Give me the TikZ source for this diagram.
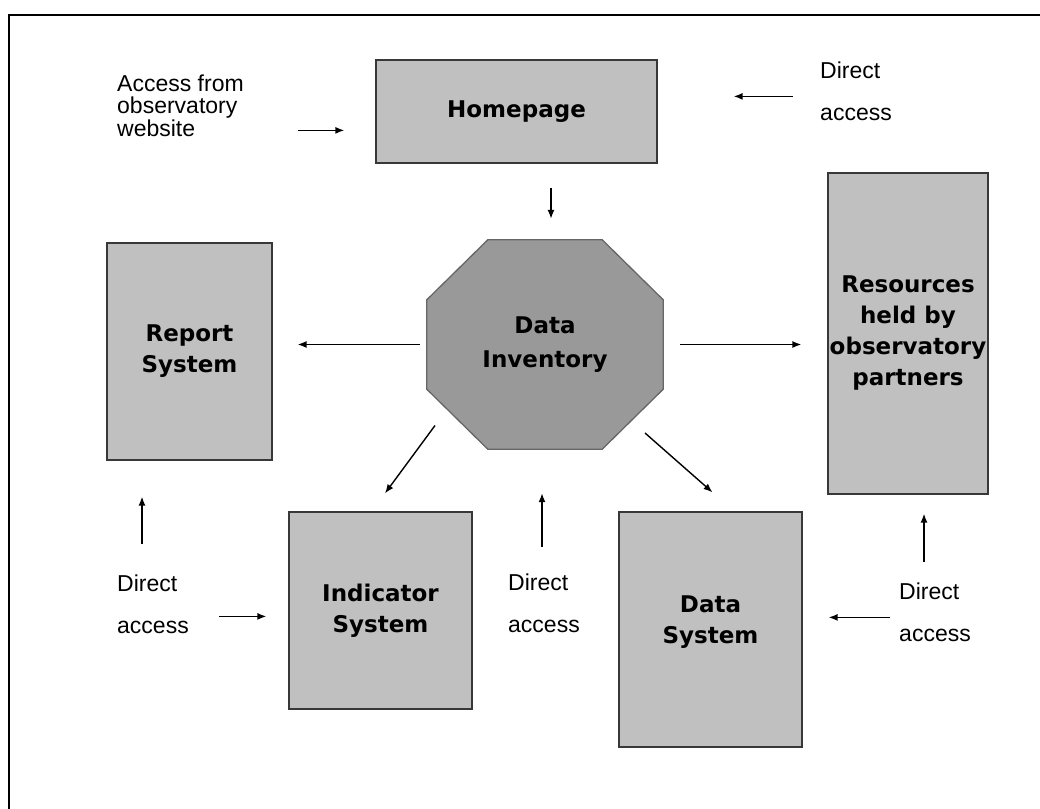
\documentclass[tikz,border=0pt]{standalone}
\usepackage{fontspec}
\setmainfont{Liberation Sans}
\newfontfamily\labelfont{DejaVu Sans}
\usepackage{tikz}
\usetikzlibrary{arrows.meta,positioning,calc,backgrounds}
\definecolor{boxgray}{HTML}{C0C0C0}
\definecolor{invgray}{HTML}{999999}
\definecolor{edgegray}{HTML}{383838}

\begin{document}
\begin{tikzpicture}[x=1pt, y=-1pt,
  box/.style={draw=edgegray, fill=boxgray, line width=1.3pt, align=center, inner sep=0pt,
              font=\labelfont\bfseries\fontsize{23}{31}\selectfont},
  hub/.style={align=center, inner sep=0pt, minimum width=236pt, minimum height=209pt,
              font=\labelfont\bfseries\fontsize{23}{34}\selectfont},
  note/.style={align=left, inner sep=0pt, anchor=north west,
               font=\fontsize{23}{42}\selectfont},
  a/.style={-{Latex[length=9pt,width=7pt]}, line width=1.4pt}]
\useasboundingbox (0,0) rectangle (1040,808);
\clip (0,0) rectangle (1040,808);
\draw[line width=2pt] (9,15) rectangle (1060,830);

\node[box, minimum width=281pt, minimum height=103pt] (home) at (516.5,111.5) {Homepage};
\node[hub] (inv) at (545,344.5) {Data\\Inventory};
\node[box, minimum width=165pt, minimum height=217pt] (report) at (189.5,351.5) {Report\\System};
\node[box, minimum width=160pt, minimum height=321pt] (res) at (908,333.5)
  {Resources\\held by\\observatory\\partners};
\node[box, minimum width=183pt, minimum height=197pt] (ind) at (380.5,610.5) {Indicator\\System};
\node[box, minimum width=183pt, minimum height=235pt] (dsys) at (710.5,629.5) {Data\\System\\[-12pt]};
\begin{scope}[on background layer]
\fill[white] (0,0) rectangle (1040,808);
\draw[fill=invgray, draw=black!60, line width=1.3pt]
  ([xshift=61pt]inv.north west) -- ([xshift=-61pt]inv.north east)
  -- ([yshift=-60pt]inv.north east) -- ([yshift=60pt]inv.south east)
  -- ([xshift=-61pt]inv.south east) -- ([xshift=61pt]inv.south west)
  -- ([yshift=60pt]inv.south west) -- ([yshift=-60pt]inv.north west) -- cycle;
\end{scope}

\node[note, font=\fontsize{23}{22.5}\selectfont] (acc) at (117,74.5)
  {Access from\\observatory\\website};
\node[note] (da1) at (820,62) {Direct\\access};
\node[note] (da2) at (117,575) {Direct\\access};
\node[note] (da3) at (508,573.5) {Direct\\access};
\node[note] (da4) at (899,583) {Direct\\access};

\draw[a, shorten <=54pt, shorten >=31pt] ([yshift=-24.75pt]acc.east) -- ([yshift=-24.75pt]acc.east -| home.west);
\draw[a, shorten <=27pt, shorten >=76pt] ([yshift=-4.75pt]da1.west) -- ([yshift=-4.75pt]da1.west -| home.east);
\draw[a, shorten <=24pt, shorten >=21pt] ([xshift=34.5pt]home.south) -- ([xshift=34.5pt]home.south |- inv.north);
\draw[a, shorten <=7pt, shorten >=25pt] (inv.west) -- (inv.west -| report.east);
\draw[a, shorten <=17pt, shorten >=26pt] (inv.east) -- (inv.east -| res.west);
\draw[a] ([shift={(-110,81)}]inv.center) -- ([shift={(4.5,-18)}]ind.north);
\draw[a] ([shift={(100,88.5)}]inv.center) -- ([shift={(2,-19)}]dsys.north);
\draw[a, shorten <=31pt, shorten >=36pt] ([xshift=25pt]da2.north west) -- ([xshift=25pt]da2.north west |- report.south);
\draw[a, shorten <=30pt, shorten >=22pt] ([yshift=-11.75pt]da2.east) -- ([yshift=-11.75pt]da2.east -| ind.west);
\draw[a, shorten <=26.5pt, shorten >=44pt] ([xshift=34pt]da3.north west) -- ([xshift=34pt]da3.north west |- inv.south);
\draw[a, shorten <=21pt, shorten >=19pt] ([xshift=25pt]da4.north west) -- ([xshift=25pt]da4.north west |- res.south);
\draw[a, shorten <=9pt, shorten >=26pt] ([yshift=-4.75pt]da4.west) -- ([yshift=-4.75pt]da4.west -| dsys.east);
\end{tikzpicture}
\end{document}
